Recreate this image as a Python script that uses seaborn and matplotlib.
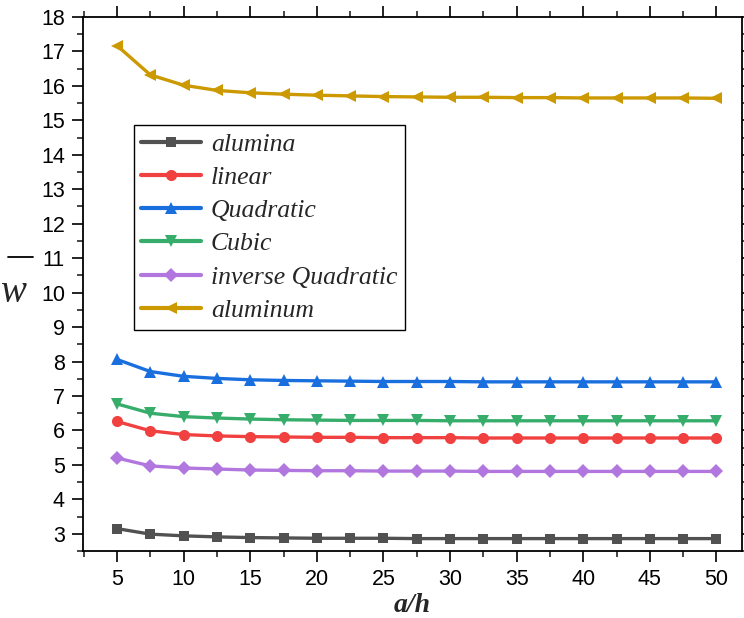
import matplotlib
matplotlib.use("Agg")
import matplotlib.pyplot as plt
import seaborn as sns
import pandas as pd
from matplotlib.ticker import MultipleLocator
from matplotlib.lines import Line2D

a_h = [5, 7.5, 10, 12.5, 15, 17.5, 20, 22.5, 25, 27.5, 30, 32.5, 35, 37.5, 40, 42.5, 45, 47.5, 50]

alumina = [3.15, 2.99, 2.94, 2.91, 2.89, 2.88, 2.87, 2.87, 2.87, 2.86, 2.86, 2.86, 2.86, 2.86, 2.86, 2.86, 2.86, 2.86, 2.86]
linear = [6.26, 5.99, 5.88, 5.84, 5.82, 5.81, 5.80, 5.80, 5.79, 5.79, 5.79, 5.78, 5.78, 5.78, 5.78, 5.78, 5.78, 5.78, 5.78]
quadratic = [8.06, 7.71, 7.57, 7.51, 7.47, 7.45, 7.44, 7.43, 7.42, 7.42, 7.42, 7.41, 7.41, 7.41, 7.41, 7.41, 7.41, 7.41, 7.41]
cubic = [6.77, 6.50, 6.40, 6.36, 6.33, 6.31, 6.30, 6.29, 6.29, 6.29, 6.28, 6.28, 6.28, 6.28, 6.28, 6.28, 6.28, 6.28, 6.28]
inv_quadratic = [5.20, 4.97, 4.91, 4.88, 4.85, 4.84, 4.83, 4.83, 4.82, 4.82, 4.82, 4.81, 4.81, 4.81, 4.81, 4.81, 4.81, 4.81, 4.81]
aluminum = [17.17, 16.32, 16.02, 15.87, 15.80, 15.76, 15.73, 15.71, 15.69, 15.68, 15.67, 15.67, 15.66, 15.66, 15.65, 15.65, 15.65, 15.65, 15.64]

names = ["alumina", "linear", "Quadratic", "Cubic", "inverse Quadratic", "aluminum"]
series = [alumina, linear, quadratic, cubic, inv_quadratic, aluminum]
colors = ["#515151", "#F14040", "#1A6FDF", "#37AD6B", "#B177DE", "#CC9900"]
markers = ["s", "o", "^", "v", "D", "<"]
msizes = [7, 8, 8.5, 8.5, 7, 8.5]

sns.set_style("ticks")
plt.rcParams["font.family"] = ["Liberation Sans", "DejaVu Sans"]

fig = plt.figure(figsize=(7.44, 6.18), dpi=100)
ax = fig.add_axes([0.1116, 0.1084, 0.8854, 0.8641])

for name, vals, c, m, ms in zip(names, series, colors, markers, msizes):
    df = pd.DataFrame({"a/h": a_h, "w": vals})
    sns.lineplot(data=df, x="a/h", y="w", ax=ax, color=c, marker=m, markersize=ms,
                 markeredgewidth=0, linewidth=2.4, label=name)

ax.set_xlim(2.45, 51.9)
ax.set_ylim(2.5, 18)
ax.xaxis.set_major_locator(MultipleLocator(5))
ax.xaxis.set_minor_locator(MultipleLocator(2.5))
ax.yaxis.set_major_locator(MultipleLocator(1))
ax.yaxis.set_minor_locator(MultipleLocator(0.5))
ax.tick_params(axis="both", which="major", direction="out", length=8, width=1.2,
               labelsize=15.5, top=True, right=True, labeltop=False, labelright=False,
               colors="black", pad=5)
ax.tick_params(axis="both", which="minor", direction="out", length=4, width=1.2,
               top=True, right=True)
for sp in ax.spines.values():
    sp.set_linewidth(1.3)
    sp.set_color("black")

ax.set_xlabel("a/h", fontfamily="Liberation Serif", fontstyle="italic", fontweight="bold",
              fontsize=20, labelpad=2)
ax.set_ylabel("w", fontfamily="Liberation Serif", fontstyle="italic", fontsize=28,
              rotation=0, va="center", ha="center")
ax.yaxis.set_label_coords(-0.107, 0.485, transform=ax.transAxes)
fig.add_artist(Line2D([8 / 744, 33 / 744], [1 - 257 / 618, 1 - 257 / 618],
                      transform=fig.transFigure, color="black", linewidth=1.3))

leg = ax.legend(loc="upper left", bbox_to_anchor=(0.077, 0.798), borderaxespad=0,
                frameon=True, fancybox=False, edgecolor="black", framealpha=1,
                prop={"family": "Liberation Serif", "style": "italic", "size": 18.5},
                handlelength=2.3, labelspacing=0.4, borderpad=0.3, handletextpad=0.4)
leg.get_frame().set_linewidth(1.0)
for h in leg.get_lines():
    h.set_linewidth(3)

fig.savefig("out.png", dpi=100)
